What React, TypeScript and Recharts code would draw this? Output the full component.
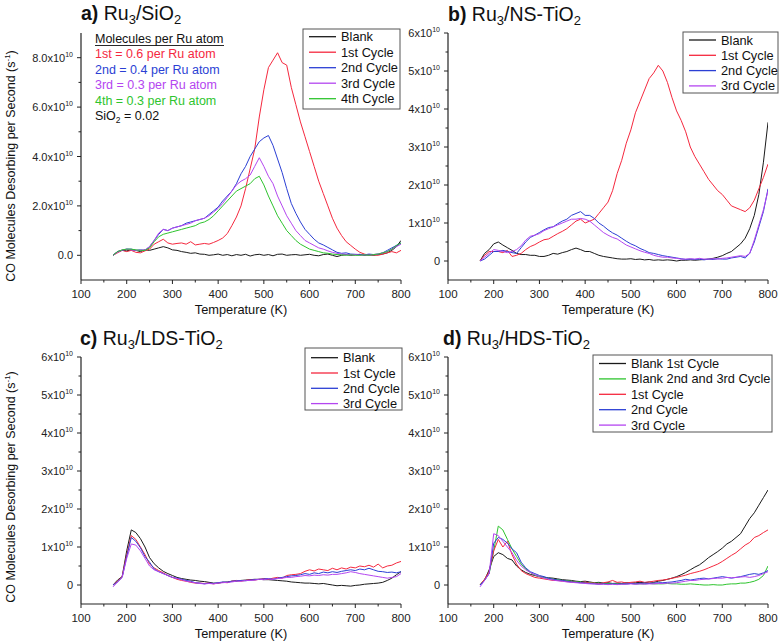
import React from 'react';
import { LineChart, Line, XAxis, YAxis } from 'recharts';

const temps = [170,180,190,200,210,220,230,240,250,260,270,280,290,300,310,320,330,340,350,360,370,380,390,400,410,420,430,440,450,460,470,480,490,500,510,520,530,540,550,560,570,580,590,600,610,620,630,640,650,660,670,680,690,700,710,720,730,740,750,760,770,780,790,800];

// Values in units of 1e10 molecules per second
const aBlank = [0.0,0.15,0.2,0.18,0.22,0.2,0.15,0.22,0.2,0.25,
  0.3,0.35,0.3,0.22,0.2,0.15,0.12,0.08,0.1,0.05,
  0.04,0.0,0.02,0.05,0.0,0.03,-0.02,0.03,0.0,0.04,
  -0.03,0.02,0.04,0.0,0.03,-0.02,0.04,0.05,0.0,0.02,
  0.03,0.0,0.02,0.04,0.0,-0.02,0.03,0.05,0.0,-0.05,
  0.0,0.03,0.0,0.02,0.04,0.0,0.02,0.0,0.03,0.05,
  0.1,0.2,0.35,0.6];
const aFirst = [0.0,0.1,0.2,0.15,0.2,0.12,0.1,0.18,0.25,0.45,
  0.55,0.65,0.5,0.45,0.48,0.5,0.45,0.55,0.42,0.45,
  0.48,0.45,0.52,0.6,0.7,0.88,1.2,1.55,2.0,2.7,
  3.5,4.3,5.6,6.7,7.6,7.9,8.2,7.8,7.7,6.8,
  6.1,5.4,4.8,4.2,3.6,3.0,2.5,2.0,1.5,1.1,
  0.8,0.55,0.4,0.25,0.12,0.05,0.0,0.02,0.0,0.05,
  0.1,0.15,0.1,0.2];
const aSecond = [0.0,0.15,0.2,0.25,0.25,0.2,0.22,0.2,0.35,0.6,
  0.85,1.05,1.0,1.1,1.15,1.2,1.3,1.35,1.4,1.45,
  1.5,1.65,1.8,1.95,2.2,2.4,2.6,2.9,3.3,3.6,
  4.0,4.3,4.6,4.75,4.85,4.45,3.9,3.35,2.7,2.1,
  1.7,1.35,1.05,0.85,0.65,0.5,0.42,0.32,0.22,0.12,
  0.08,0.1,0.05,0.04,0.03,0.02,0.05,0.03,0.05,0.1,
  0.2,0.3,0.4,0.5];
const aThird = [0.0,0.12,0.22,0.25,0.22,0.2,0.2,0.22,0.35,0.6,
  0.9,1.05,1.0,1.1,1.15,1.2,1.25,1.3,1.4,1.45,
  1.5,1.6,1.75,1.9,2.1,2.35,2.6,2.85,3.0,3.1,
  3.25,3.6,3.95,3.6,3.2,2.9,2.4,2.0,1.6,1.3,
  1.0,0.8,0.6,0.5,0.4,0.3,0.25,0.18,0.12,0.08,
  0.05,0.04,0.02,0.03,0.0,0.02,0.0,0.03,0.05,0.1,
  0.15,0.25,0.35,0.45];
const aFourth = [0.0,0.15,0.22,0.25,0.25,0.22,0.2,0.2,0.3,0.55,
  0.75,0.85,0.9,0.95,1.0,1.05,1.1,1.15,1.2,1.3,
  1.35,1.45,1.6,1.8,2.0,2.2,2.4,2.6,2.7,2.8,
  2.9,3.1,3.2,2.85,2.4,2.0,1.6,1.3,1.0,0.8,
  0.6,0.45,0.35,0.25,0.2,0.15,0.1,0.08,0.05,0.03,
  0.02,0.0,0.02,0.0,0.0,0.02,0.0,0.03,0.05,0.1,
  0.15,0.25,0.4,0.5];

const bBlank = [0.0,0.2,0.3,0.45,0.5,0.42,0.35,0.28,0.2,0.17,
  0.17,0.15,0.15,0.12,0.12,0.15,0.2,0.18,0.22,0.25,
  0.3,0.34,0.3,0.25,0.25,0.2,0.15,0.12,0.1,0.08,
  0.06,0.05,0.05,0.06,0.04,0.05,0.03,0.04,0.02,0.03,
  0.02,0.03,0.02,0.0,0.02,0.02,0.03,0.02,0.03,0.04,
  0.05,0.07,0.1,0.14,0.2,0.25,0.35,0.45,0.6,0.85,
  1.2,1.75,2.6,3.65];
const bFirst = [0.0,0.15,0.25,0.25,0.25,0.22,0.28,0.12,0.15,0.2,
  0.3,0.38,0.43,0.5,0.56,0.58,0.65,0.72,0.78,0.85,
  0.95,1.05,1.1,1.0,1.05,1.1,1.25,1.4,1.55,1.85,
  2.3,2.65,3.1,3.45,3.9,4.2,4.5,4.8,4.95,5.15,
  5.0,4.7,4.3,3.95,3.7,3.4,3.0,2.75,2.55,2.35,
  2.15,2.0,1.85,1.75,1.6,1.45,1.4,1.35,1.3,1.4,
  1.6,1.9,2.2,2.55];
const bSecond = [0.0,0.05,0.15,0.25,0.25,0.28,0.25,0.22,0.2,0.35,
  0.5,0.62,0.68,0.75,0.82,0.88,0.9,0.98,1.05,1.1,
  1.2,1.25,1.3,1.2,1.2,1.12,1.0,0.92,0.82,0.74,
  0.68,0.6,0.52,0.45,0.4,0.33,0.28,0.22,0.2,0.17,
  0.14,0.12,0.1,0.08,0.06,0.04,0.05,0.04,0.05,0.03,
  0.05,0.04,0.06,0.05,0.05,0.08,0.1,0.12,0.08,0.2,
  0.5,0.9,1.3,1.9];
const bThird = [0.0,0.1,0.2,0.3,0.28,0.25,0.22,0.25,0.3,0.4,
  0.55,0.65,0.68,0.72,0.8,0.85,0.9,0.95,1.0,1.05,
  1.1,1.1,1.12,1.1,1.05,0.95,0.85,0.75,0.68,0.62,
  0.58,0.5,0.42,0.37,0.32,0.27,0.23,0.2,0.15,0.12,
  0.1,0.1,0.08,0.07,0.05,0.05,0.06,0.05,0.07,0.05,
  0.05,0.06,0.05,0.07,0.08,0.1,0.12,0.14,0.12,0.2,
  0.55,0.95,1.35,1.85];

const cBlank = [0.0,0.13,0.22,0.9,1.45,1.38,1.22,1.0,0.72,0.56,
  0.45,0.36,0.3,0.25,0.2,0.17,0.15,0.13,0.12,0.1,
  0.09,0.07,0.05,0.05,0.07,0.08,0.1,0.1,0.12,0.13,
  0.14,0.15,0.15,0.14,0.14,0.13,0.12,0.11,0.1,0.08,
  0.07,0.06,0.05,0.05,0.04,0.03,0.04,0.02,0.0,-0.02,
  -0.01,-0.02,-0.03,-0.01,0.0,0.02,0.03,0.04,0.05,0.07,
  0.12,0.18,0.27,0.35];
const cFirst = [0.0,0.1,0.22,0.8,1.3,1.2,1.0,0.8,0.55,0.45,
  0.38,0.32,0.25,0.2,0.15,0.12,0.1,0.07,0.05,0.05,
  0.04,0.05,0.03,0.05,0.07,0.06,0.1,0.12,0.1,0.12,
  0.14,0.13,0.15,0.17,0.15,0.18,0.2,0.18,0.25,0.27,
  0.28,0.3,0.36,0.4,0.37,0.42,0.4,0.38,0.44,0.4,
  0.45,0.42,0.47,0.45,0.5,0.48,0.52,0.47,0.55,0.45,
  0.5,0.52,0.58,0.62];
const cSecond = [0.0,0.08,0.2,0.75,1.25,1.15,0.98,0.75,0.6,0.42,
  0.35,0.3,0.25,0.2,0.18,0.15,0.12,0.1,0.06,0.05,
  0.03,0.05,0.04,0.06,0.08,0.07,0.1,0.11,0.12,0.11,
  0.13,0.14,0.15,0.16,0.17,0.15,0.18,0.2,0.22,0.24,
  0.25,0.27,0.3,0.28,0.32,0.3,0.34,0.32,0.35,0.33,
  0.36,0.38,0.4,0.38,0.42,0.4,0.44,0.4,0.36,0.35,
  0.33,0.34,0.32,0.35];
const cThird = [-0.05,0.08,0.2,0.7,1.08,1.05,0.9,0.7,0.5,0.4,
  0.35,0.3,0.25,0.2,0.17,0.14,0.1,0.08,0.06,0.04,
  0.03,0.04,0.03,0.05,0.06,0.07,0.08,0.1,0.1,0.12,
  0.12,0.13,0.15,0.14,0.16,0.15,0.17,0.18,0.2,0.2,
  0.22,0.23,0.25,0.24,0.26,0.25,0.27,0.26,0.28,0.28,
  0.3,0.32,0.35,0.33,0.3,0.28,0.26,0.24,0.22,0.2,
  0.18,0.2,0.22,0.3];

const dBlankFirst = [0.0,0.13,0.4,0.75,0.85,0.8,0.7,0.66,0.5,0.4,
  0.33,0.28,0.25,0.22,0.2,0.19,0.18,0.16,0.14,0.13,
  0.12,0.1,0.09,0.1,0.08,0.06,0.07,0.05,0.06,0.04,
  0.05,0.04,0.06,0.05,0.06,0.07,0.06,0.08,0.07,0.1,
  0.12,0.15,0.18,0.22,0.27,0.33,0.4,0.47,0.53,0.62,
  0.72,0.8,0.88,0.97,1.08,1.15,1.25,1.35,1.55,1.75,
  1.9,2.1,2.3,2.5];
const dBlankLater = [0.0,0.15,0.3,0.9,1.55,1.45,1.2,0.95,0.75,0.55,
  0.42,0.33,0.26,0.22,0.2,0.17,0.15,0.14,0.12,0.11,
  0.1,0.08,0.08,0.06,0.06,0.05,0.05,0.04,0.04,0.04,
  0.03,0.03,0.03,0.04,0.03,0.03,0.03,0.04,0.03,0.03,
  0.03,0.04,0.03,0.03,0.02,0.02,0.03,0.02,0.01,0.0,
  0.0,0.01,0.0,0.0,0.02,0.03,0.03,0.05,0.05,0.07,
  0.1,0.15,0.25,0.5];
const dFirst = [0.0,0.15,0.35,0.9,1.2,1.0,1.15,0.8,0.55,0.38,
  0.3,0.25,0.2,0.18,0.16,0.14,0.12,0.12,0.1,0.09,
  0.08,0.07,0.06,0.08,0.05,0.05,0.03,0.06,0.08,0.12,
  0.07,0.08,0.05,0.07,0.08,0.1,0.07,0.08,0.1,0.12,
  0.13,0.15,0.18,0.2,0.23,0.26,0.3,0.33,0.36,0.4,
  0.45,0.5,0.55,0.62,0.7,0.78,0.85,0.95,1.05,1.12,
  1.25,1.3,1.38,1.45];
const dSecond = [0.0,0.12,0.3,1.1,1.25,1.2,1.1,0.95,0.85,0.6,
  0.45,0.35,0.3,0.25,0.22,0.18,0.15,0.13,0.12,0.1,
  0.08,0.07,0.06,0.05,0.04,0.03,0.02,0.03,0.02,0.03,
  0.02,0.03,0.03,0.04,0.03,0.04,0.05,0.04,0.05,0.06,
  0.06,0.07,0.08,0.1,0.12,0.15,0.13,0.15,0.17,0.18,
  0.16,0.18,0.2,0.22,0.2,0.18,0.2,0.22,0.25,0.28,
  0.3,0.28,0.32,0.38];
const dThird = [-0.05,0.12,0.3,1.35,1.3,1.15,1.0,0.85,0.65,0.5,
  0.4,0.33,0.27,0.22,0.18,0.15,0.13,0.11,0.1,0.08,
  0.07,0.06,0.05,0.04,0.03,0.03,0.02,0.02,0.01,0.02,
  0.01,0.02,0.02,0.03,0.02,0.03,0.02,0.03,0.03,0.04,
  0.04,0.05,0.05,0.06,0.08,0.1,0.12,0.12,0.14,0.15,
  0.16,0.17,0.18,0.18,0.2,0.19,0.2,0.21,0.22,0.2,
  0.22,0.25,0.3,0.35];

const xTicks = [100,150,200,250,300,350,400,450,500,550,600,650,700,750,800];
const yTicksA = [0,1,2,3,4,5,6,7,8];
const yTicksTi = [0,0.5,1,1.5,2,2.5,3,3.5,4,4.5,5,5.5,6];

const legendA = ['Blank', '1st Cycle', '2nd Cycle', '3rd Cycle', '4th Cycle'];
const legendB = ['Blank', '1st Cycle', '2nd Cycle', '3rd Cycle'];
const legendD = ['Blank 1st Cycle', 'Blank 2nd and 3rd Cycle', '1st Cycle', '2nd Cycle', '3rd Cycle'];
const notesA = ['1st = 0.6 per Ru atom', '2nd = 0.4 per Ru atom', '3rd = 0.3 per Ru atom', '4th = 0.3 per Ru atom'];

const BLACK = '#1a1a1a';
const RED = '#f5283e';
const BLUE = '#2b3fd4';
const PURPLE = '#b446f0';
const GREEN = '#2ec42e';
const AX = '#222';
const FONT = '"Liberation Sans", Arial, sans-serif';

function build(series: Record<string, number[]>) {
  return temps.map((t, i) => {
    const row: any = { t };
    Object.keys(series).forEach((k) => { row[k] = series[k][i]; });
    return row;
  });
}

const dataA = build({ blank: aBlank, c1: aFirst, c2: aSecond, c3: aThird, c4: aFourth });
const dataB = build({ blank: bBlank, c1: bFirst, c2: bSecond, c3: bThird });
const dataC = build({ blank: cBlank, c1: cFirst, c2: cSecond, c3: cThird });
const dataD = build({ blank: dBlankFirst, blank2: dBlankLater, c1: dFirst, c2: dSecond, c3: dThird });

const XTick = (props: any) => {
  const { x, y, payload } = props;
  const v = payload.value;
  const major = v % 100 === 0;
  return (
    <g>
      <line x1={x} x2={x} y1={y} y2={y + (major ? 4 : 2.5)} stroke={AX} strokeWidth={1} />
      {major && (
        <text x={x} y={y + 17.5} textAnchor="middle" fontSize={11.5} fill={AX} fontFamily={FONT}>{v}</text>
      )}
    </g>
  );
};

const makeYTick = (majorStep: number, decimals: boolean) => (props: any) => {
  const { x, y, payload } = props;
  const v = payload.value;
  const q = v / majorStep;
  const major = Math.abs(q - Math.round(q)) < 1e-6;
  const main = v === 0 ? (decimals ? '0.0' : '0') : (decimals ? v.toFixed(1) : String(v)) + 'x10';
  return (
    <g>
      <line x1={x} x2={x - (major ? 4 : 2.5)} y1={y} y2={y} stroke={AX} strokeWidth={1} />
      {major && (
        <text x={x - 8} y={y + 4} textAnchor="end" fontSize={11} fill={AX} fontFamily={FONT}>
          <tspan>{main}</tspan>
          {v !== 0 && <tspan fontSize={7} dy={-5}>10</tspan>}
        </text>
      )}
    </g>
  );
};

const YTickA = makeYTick(2, true);
const YTickTi = makeYTick(1, false);

const lineProps = { type: 'linear' as const, dot: false, strokeWidth: 1, isAnimationActive: false, activeDot: false };

function Panel(props: { left: number; top: number; data: any[]; yDomain: number[]; yTicks: number[]; yTick: any; yWidth: number; series: { key: string; color: string }[] }) {
  const { left, top, data, yDomain, yTicks, yTick, yWidth, series } = props;
  const width = yWidth + 320 + 10;
  return (
    <div style={{ position: 'absolute', left, top }}>
      <LineChart width={width} height={305} data={data} margin={{ top: 33, right: 10, left: 0, bottom: 0 }}>
        <XAxis dataKey="t" type="number" domain={[100, 800]} ticks={xTicks} interval={0} height={25}
          tick={<XTick />} tickLine={false} tickSize={0} tickMargin={0} axisLine={{ stroke: AX, strokeWidth: 1.2 }} allowDataOverflow />
        <YAxis type="number" domain={yDomain} ticks={yTicks} interval={0} width={yWidth}
          tick={yTick} tickLine={false} tickSize={0} tickMargin={0} axisLine={{ stroke: AX, strokeWidth: 1.2 }} allowDataOverflow />
        {series.map((s) => (
          <Line key={s.key} dataKey={s.key} stroke={s.color} {...lineProps} />
        ))}
      </LineChart>
    </div>
  );
}

function LegendBox(props: { x: number; y: number; w: number; h: number; labels: string[]; colors: string[]; first: number; step: number }) {
  const { x, y, w, h, labels, colors, first, step } = props;
  return (
    <g>
      <rect x={x} y={y} width={w} height={h} fill="#fff" stroke="#555" strokeWidth={1} />
      {labels.map((l, i) => {
        const cy = first + i * step;
        return (
          <g key={l}>
            <line x1={x + 6} x2={x + 33} y1={cy} y2={cy} stroke={colors[i]} strokeWidth={1.3} />
            <text x={x + 38} y={cy + 4.5} fontSize={12.8} fill="#111" fontFamily={FONT}>{l}</text>
          </g>
        );
      })}
    </g>
  );
}

function Title(props: { x: number; y: number; letter: string; support: string }) {
  const { x, y, letter, support } = props;
  return (
    <text x={x} y={y} fontSize={19.5} fill="#111" fontFamily={FONT}>
      <tspan fontWeight="bold">{letter}</tspan>
      <tspan> Ru</tspan>
      <tspan fontSize={13} dy={4}>3</tspan>
      <tspan dy={-4}>/{support}O</tspan>
      <tspan fontSize={13} dy={4}>2</tspan>
    </text>
  );
}

function YTitle(props: { cy: number }) {
  return (
    <text transform={`translate(14.5, ${props.cy}) rotate(-90)`} textAnchor="middle" fontSize={12.5} fill="#111" fontFamily={FONT}>
      <tspan>CO Molecules Desorbing per Second (s</tspan>
      <tspan fontSize={8} dy={-5}>-1</tspan>
      <tspan dy={5}>)</tspan>
    </text>
  );
}

export default function App() {
  const colorsA = [BLACK, RED, BLUE, PURPLE, GREEN];
  const colorsB = [BLACK, RED, BLUE, PURPLE];
  const colorsD = [BLACK, GREEN, RED, BLUE, PURPLE];
  const notesColors = [RED, BLUE, PURPLE, GREEN];
  return (
    <div style={{ position: 'absolute', left: 0, top: 0, width: 780, height: 644, background: '#fff', overflow: 'hidden' }}>
      <Panel left={0} top={0} data={dataA} yDomain={[-1, 9]} yTicks={yTicksA} yTick={<YTickA />} yWidth={81}
        series={[{ key: 'blank', color: BLACK }, { key: 'c1', color: RED }, { key: 'c2', color: BLUE }, { key: 'c3', color: PURPLE }, { key: 'c4', color: GREEN }]} />
      <Panel left={390} top={0} data={dataB} yDomain={[-0.5, 6]} yTicks={yTicksTi} yTick={<YTickTi />} yWidth={58}
        series={[{ key: 'blank', color: BLACK }, { key: 'c1', color: RED }, { key: 'c2', color: BLUE }, { key: 'c3', color: PURPLE }]} />
      <Panel left={0} top={324} data={dataC} yDomain={[-0.5, 6]} yTicks={yTicksTi} yTick={<YTickTi />} yWidth={81}
        series={[{ key: 'blank', color: BLACK }, { key: 'c1', color: RED }, { key: 'c2', color: BLUE }, { key: 'c3', color: PURPLE }]} />
      <Panel left={390} top={324} data={dataD} yDomain={[-0.5, 6]} yTicks={yTicksTi} yTick={<YTickTi />} yWidth={58}
        series={[{ key: 'blank', color: BLACK }, { key: 'blank2', color: GREEN }, { key: 'c1', color: RED }, { key: 'c2', color: BLUE }, { key: 'c3', color: PURPLE }]} />
      <svg width={780} height={644} style={{ position: 'absolute', left: 0, top: 0, pointerEvents: 'none' }}>
        <Title x={81} y={20} letter="a)" support="Si" />
        <Title x={448} y={20.5} letter="b)" support="NS-Ti" />
        <Title x={80} y={345} letter="c)" support="LDS-Ti" />
        <Title x={443} y={344.5} letter="d)" support="HDS-Ti" />
        <YTitle cy={166} />
        <YTitle cy={487} />
        {[241, 608].map((cx) => (
          <text key={'xt' + cx} x={cx} y={314} textAnchor="middle" fontSize={12.8} fill="#111" fontFamily={FONT}>Temperature (K)</text>
        ))}
        {[241, 608].map((cx) => (
          <text key={'xb' + cx} x={cx} y={638} textAnchor="middle" fontSize={12.8} fill="#111" fontFamily={FONT}>Temperature (K)</text>
        ))}
        <text x={95} y={43} fontSize={12.5} fill="#111" fontFamily={FONT}>Molecules per Ru atom</text>
        <line x1={95} x2={224} y1={45.5} y2={45.5} stroke="#111" strokeWidth={0.9} />
        {notesA.map((n, i) => (
          <text key={n} x={95} y={58 + i * 15.5} fontSize={12.5} fill={notesColors[i]} fontFamily={FONT}>{n}</text>
        ))}
        <text x={95} y={120} fontSize={12.5} fill="#111" fontFamily={FONT}>
          <tspan>SiO</tspan>
          <tspan fontSize={8.5} dy={3}>2</tspan>
          <tspan dy={-3}> = 0.02</tspan>
        </text>
        <LegendBox x={303} y={29} w={97} h={80} labels={legendA} colors={colorsA} first={36.7} step={15.5} />
        <LegendBox x={683} y={32} w={95} h={61} labels={legendB} colors={colorsB} first={40} step={15.3} />
        <LegendBox x={305} y={348} w={97} h={62} labels={legendB} colors={colorsB} first={357.7} step={15.3} />
        <LegendBox x={593} y={355} w={179} h={77} labels={legendD} colors={colorsD} first={363.5} step={15.4} />
      </svg>
    </div>
  );
}
